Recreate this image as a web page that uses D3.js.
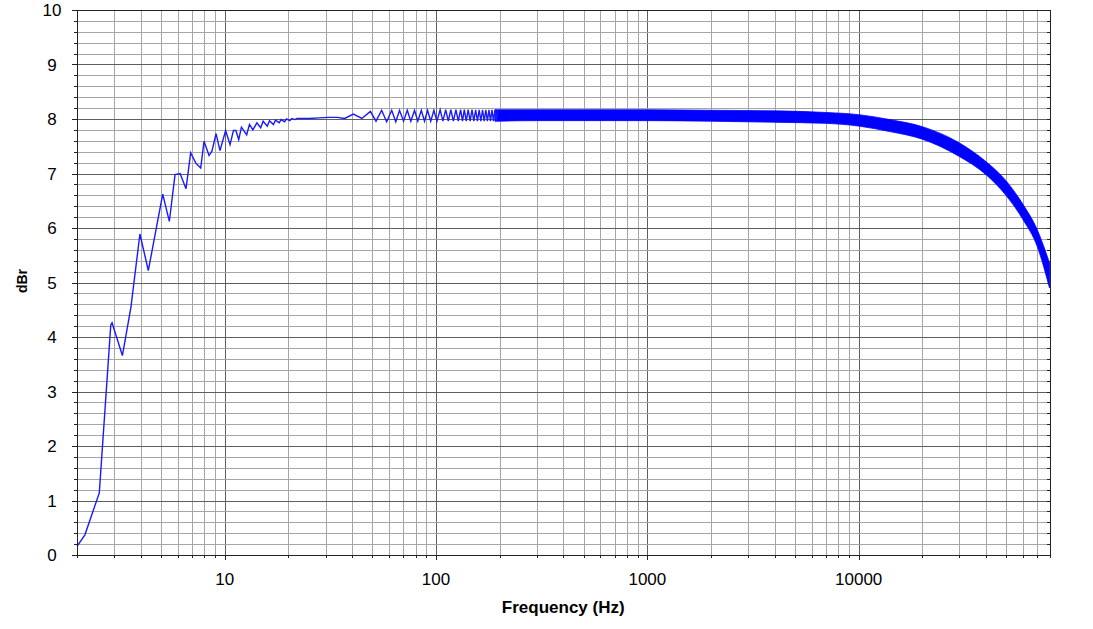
<!DOCTYPE html>
<html>
<head>
<meta charset="utf-8">
<script src="https://cdn.jsdelivr.net/npm/d3@7"></script>
<style>
  body { margin: 0; background: #fff; }
  svg { display: block; }
</style>
</head>
<body>
<script>
// low frequency part, every visible vertex of the response trace
var lowFreq = [2.0, 2.18, 2.55, 2.89, 2.93, 3.28, 3.6, 3.97, 4.35, 5.09, 5.47, 5.82, 6.15, 6.56, 6.9,
  7.3, 7.7, 7.98, 8.43, 8.7, 9.1, 9.5, 10.1, 10.6, 11.0, 11.3, 11.65, 12.0, 12.7, 13.1, 13.6, 14.2,
  14.8, 15.2, 15.9, 16.3, 17.0, 17.4, 18.1, 18.5, 19.2, 19.6, 20.3, 20.8, 21.5, 22.0, 25.0, 28.0,
  31.0, 34.0, 37.0, 40.6, 44.6, 48.9, 52.0, 55.3, 58.4, 61.7, 64.5, 67.2, 70.2, 73.1, 76.0, 79.1,
  82.0, 85.2, 88.2, 91.2, 94.4, 97.7, 101.0, 104.6, 107.8, 111.1, 114.3, 117.5, 120.8, 124.2, 127.4,
  130.7, 133.4, 136.1, 139.0, 141.9, 145.0, 148.0, 151.0, 154.0, 157.0, 160.0, 163.0, 166.0, 169.0,
  172.0, 175.0, 178.0, 181.0, 184.0, 187.0, 190.0, 193.0, 196.0];
var lowDb = [0.16, 0.37, 1.14, 4.22, 4.26, 3.66, 4.55, 5.89, 5.22, 6.62, 6.12, 6.98, 7.00, 6.72, 7.38,
  7.19, 7.10, 7.59, 7.33, 7.41, 7.73, 7.42, 7.79, 7.53, 7.79, 7.79, 7.62, 7.85, 7.71, 7.90, 7.80, 7.93,
  7.84, 7.96, 7.87, 7.97, 7.90, 7.98, 7.93, 7.99, 7.95, 8.00, 7.97, 8.01, 7.99, 8.01, 8.01, 8.02,
  8.03, 8.03, 8.01, 8.09, 8.01, 8.14, 7.96, 8.16, 7.95, 8.16, 7.95, 8.16, 7.96, 8.16, 7.96, 8.16,
  7.96, 8.16, 7.96, 8.16, 7.96, 8.16, 7.96, 8.17, 7.96, 8.17, 7.96, 8.17, 7.96, 8.17, 7.96,
  8.17, 7.96, 8.17, 7.96, 8.17, 7.96, 8.17, 7.96, 8.17, 7.96, 8.17, 7.96, 8.17, 7.96,
  8.17, 7.96, 8.17, 7.96, 8.17, 7.96, 8.17, 7.96, 8.17];

// above ~190 Hz the ripple is too dense to resolve: read as upper / lower envelope
var bandFreq = [190, 300, 500, 1000, 2000, 4000, 7000, 10000, 14000, 20000, 30000, 40000, 50000, 60000, 70000, 80000];
var bandHi = [8.17, 8.17, 8.17, 8.17, 8.16, 8.15, 8.12, 8.08, 7.99, 7.86, 7.56, 7.22, 6.86, 6.43, 5.97, 5.36];
var bandLo = [7.96, 7.97, 7.97, 7.97, 7.96, 7.94, 7.92, 7.87, 7.77, 7.63, 7.31, 6.98, 6.59, 6.15, 5.66, 4.90];

var xLabels = [10, 100, 1000, 10000];
var yLabels = [0, 1, 2, 3, 4, 5, 6, 7, 8, 9, 10];

var W = 1093, H = 629;
var plotL = 77, plotR = 1049.5, plotT = 10, plotB = 555;
var font = "'Liberation Sans', Arial, sans-serif";

var x = d3.scaleLog().domain([2, 80000]).range([plotL, plotR]);
var y = d3.scaleLinear().domain([0, 10]).range([plotB, plotT]);

var svg = d3.select("body").append("svg")
    .attr("width", W)
    .attr("height", H);

// grid values
var minorX = [];
for (var e = 0; e <= 4; e++) {
  for (var m = 1; m <= 9; m++) {
    var v = m * Math.pow(10, e);
    if (v >= 2 && v <= 80000) minorX.push(v);
  }
}
var minorY = d3.range(0, 51).map(function(i) { return i / 5; });
function isMajorY(d) { return Math.abs(d - Math.round(d)) < 1e-6; }

var grid = svg.append("g").attr("shape-rendering", "crispEdges");
grid.selectAll("line.vx").data(minorX).enter().append("line")
    .attr("x1", function(d) { return Math.round(x(d)) + 0.5; })
    .attr("x2", function(d) { return Math.round(x(d)) + 0.5; })
    .attr("y1", plotT).attr("y2", plotB)
    .attr("stroke", function(d) { return xLabels.indexOf(d) >= 0 ? "#5e5e5e" : "#a6a6a6"; });
grid.selectAll("line.hy").data(minorY).enter().append("line")
    .attr("y1", function(d) { return Math.round(y(d)) + 0.5; })
    .attr("y2", function(d) { return Math.round(y(d)) + 0.5; })
    .attr("x1", plotL).attr("x2", plotR)
    .attr("stroke", function(d) { return isMajorY(d) ? "#5e5e5e" : "#a6a6a6"; });

// ticks
var ticks = svg.append("g").attr("shape-rendering", "crispEdges").attr("stroke", "#222");
ticks.selectAll("line.tx").data(minorX).enter().append("line")
    .attr("x1", function(d) { return Math.round(x(d)) + 0.5; })
    .attr("x2", function(d) { return Math.round(x(d)) + 0.5; })
    .attr("y1", plotB)
    .attr("y2", function(d) { return plotB + (xLabels.indexOf(d) >= 0 ? 5 : 3); });
ticks.selectAll("line.ty").data(minorY).enter().append("line")
    .attr("y1", function(d) { return Math.round(y(d)) + 0.5; })
    .attr("y2", function(d) { return Math.round(y(d)) + 0.5; })
    .attr("x1", function(d) { return plotL - (isMajorY(d) ? 5 : 3); })
    .attr("x2", plotL);
ticks.selectAll("line.tr").data(minorY).enter().append("line")
    .attr("y1", function(d) { return Math.round(y(d)) + 0.5; })
    .attr("y2", function(d) { return Math.round(y(d)) + 0.5; })
    .attr("x1", plotR - 3)
    .attr("x2", plotR);

// response: dense band then resolved trace
var bandData = bandFreq.map(function(f, i) { return {f: f, hi: bandHi[i], lo: bandLo[i]}; });
var area = d3.area()
    .x(function(d) { return x(d.f); })
    .y0(function(d) { return y(d.lo); })
    .y1(function(d) { return y(d.hi); })
    .curve(d3.curveMonotoneX);
svg.append("path")
    .datum(bandData)
    .attr("d", area)
    .attr("fill", "#0000ff")
    .attr("stroke", "#0000ff")
    .attr("stroke-width", 0.8);

var lowData = lowFreq.map(function(f, i) { return {f: f, v: lowDb[i]}; });
var line = d3.line()
    .x(function(d) { return x(d.f); })
    .y(function(d) { return y(d.v); });
svg.append("path")
    .datum(lowData)
    .attr("d", line)
    .attr("fill", "none")
    .attr("stroke", "#1a1aff")
    .attr("stroke-width", 1.4)
    .attr("stroke-linejoin", "miter");

// frame
svg.append("rect")
    .attr("x", plotL + 0.5).attr("y", plotT + 0.5)
    .attr("width", Math.round(plotR - plotL)).attr("height", plotB - plotT)
    .attr("fill", "none")
    .attr("stroke", "#222")
    .attr("shape-rendering", "crispEdges");

// labels
svg.selectAll("text.xl").data(xLabels).enter().append("text")
    .attr("x", function(d) { return x(d); })
    .attr("y", 585)
    .attr("text-anchor", "middle")
    .attr("font-family", font)
    .attr("font-size", 17)
    .text(function(d) { return d; });

svg.selectAll("text.yl").data(yLabels).enter().append("text")
    .attr("x", 52)
    .attr("y", function(d) { return y(d) + 6; })
    .attr("text-anchor", "middle")
    .attr("font-family", font)
    .attr("font-size", 17)
    .text(function(d) { return d; });

svg.append("text")
    .attr("x", (plotL + plotR) / 2)
    .attr("y", 613)
    .attr("text-anchor", "middle")
    .attr("font-family", font)
    .attr("font-size", 17)
    .attr("font-weight", "bold")
    .text("Frequency (Hz)");

svg.append("text")
    .attr("transform", "translate(27,281) rotate(-90)")
    .attr("text-anchor", "middle")
    .attr("font-family", font)
    .attr("font-size", 14)
    .attr("font-weight", "bold")
    .text("dBr");
</script>
</body>
</html>
